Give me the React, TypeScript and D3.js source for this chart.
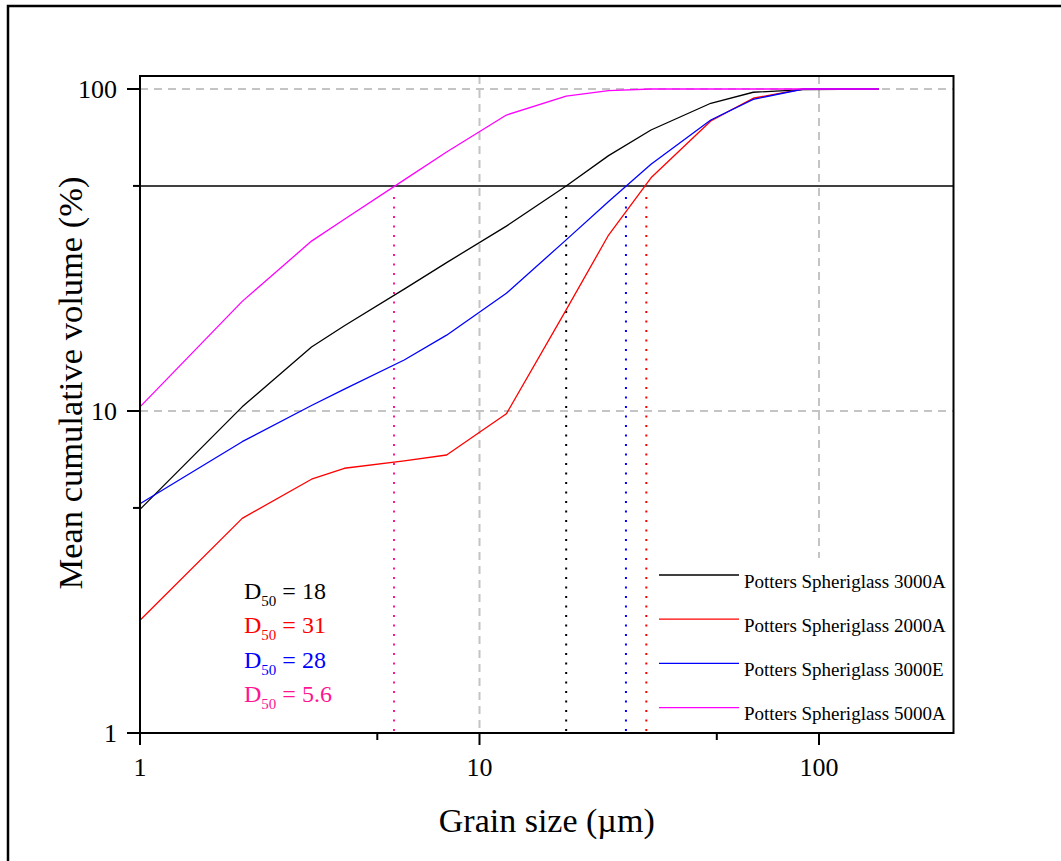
import * as d3 from "d3";

const WIDTH = 1061;
const HEIGHT = 861;
const PLOT = { left: 140, right: 953.5, top: 76, bottom: 733 };

// grain sizes (µm) shared by every series
const grainSizes = [1, 2, 3.2, 4, 6, 8, 12, 18, 24, 32, 48, 64, 90, 150];

const series3000A = [4.95, 10.3, 15.8, 18.4, 23.9, 28.9, 37.5, 50, 62.1, 74.6, 90.3, 97.7, 99.5, 100];
const series2000A = [2.24, 4.64, 6.14, 6.64, 7.0, 7.3, 9.8, 20.6, 35.2, 53.0, 79.6, 93.6, 100, 100];
const series3000E = [5.15, 8.03, 10.4, 11.7, 14.4, 17.2, 23.2, 34.0, 44.7, 58.4, 80.1, 92.9, 100, 100];
const series5000A = [10.3, 21.9, 33.7, 39.4, 52.2, 63.7, 83.0, 95.1, 98.8, 100, 100, 100, 100, 100];

const seriesNames = [
  "Potters Spheriglass 3000A",
  "Potters Spheriglass 2000A",
  "Potters Spheriglass 3000E",
  "Potters Spheriglass 5000A",
];
const seriesColors = ["#000000", "#ff0000", "#0000ff", "#ff00ff"];
const seriesValues = [series3000A, series2000A, series3000E, series5000A];

// D50 markers: where each curve crosses 50 %, and the printed value
const d50Positions = [18, 31, 27, 5.6];
const d50Labels = ["18", "31", "28", "5.6"];
const d50Colors = ["#000000", "#ff0000", "#0000ff", "#ff1493"];

const majorTicks = [1, 10, 100];
const minorTicks = [5, 50];
const gridValues = [10, 100];

const FONT = "'Liberation Serif', 'Times New Roman', serif";

export default function App() {
  const x = d3
    .scaleLog()
    .domain([1, Math.pow(10, (PLOT.right - PLOT.left) / 339.5)])
    .range([PLOT.left, PLOT.right]);
  const y = d3
    .scaleLog()
    .domain([1, Math.pow(10, (PLOT.bottom - PLOT.top) / 322)])
    .range([PLOT.bottom, PLOT.top]);

  const line = d3
    .line<[number, number]>()
    .x((d) => x(d[0]))
    .y((d) => y(d[1]));

  const legendX = 659;
  const legendY0 = 575;
  const legendStep = 44.2;

  return (
    <div style={{ position: "absolute", left: 0, top: 0 }}>
      <svg width={WIDTH} height={HEIGHT} style={{ display: "block", fontFamily: FONT }}>
        <rect x={0} y={0} width={WIDTH} height={HEIGHT} fill="#fff" />
        <rect x={8} y={6} width={WIDTH + 10} height={HEIGHT + 10} fill="none" stroke="#000" strokeWidth={2.5} />

        {/* grid */}
        {gridValues.map((v) => (
          <line
            key={"gx" + v}
            x1={x(v)}
            x2={x(v)}
            y1={PLOT.top}
            y2={PLOT.bottom}
            stroke="#c4c4c4"
            strokeWidth={2}
            strokeDasharray="8 6"
          />
        ))}
        {gridValues.map((v) => (
          <line
            key={"gy" + v}
            x1={PLOT.left}
            x2={PLOT.right}
            y1={y(v)}
            y2={y(v)}
            stroke="#c4c4c4"
            strokeWidth={2}
            strokeDasharray="8 6"
          />
        ))}

        {/* 50 % reference line */}
        <line x1={PLOT.left} x2={PLOT.right} y1={y(50)} y2={y(50)} stroke="#000" strokeWidth={1.5} />

        {/* D50 drop lines */}
        {d50Positions.map((v, i) => (
          <line
            key={"d50" + i}
            x1={x(v)}
            x2={x(v)}
            y1={y(50) + 11}
            y2={PLOT.bottom}
            stroke={d50Colors[i]}
            strokeWidth={2}
            strokeDasharray="2 7.5"
          />
        ))}

        {/* legend background hides the grid */}
        <rect x={652} y={558} width={298} height={170} fill="#fff" />

        {/* curves */}
        {seriesValues.map((vals, i) => (
          <path
            key={seriesNames[i]}
            d={line(grainSizes.map((g, j) => [g, vals[j]] as [number, number])) ?? ""}
            fill="none"
            stroke={seriesColors[i]}
            strokeWidth={1.3}
            strokeLinejoin="round"
          />
        ))}

        {/* legend */}
        {seriesNames.map((name, i) => (
          <g key={"leg" + i}>
            <line
              x1={legendX}
              x2={legendX + 80}
              y1={legendY0 + i * legendStep}
              y2={legendY0 + i * legendStep}
              stroke={seriesColors[i]}
              strokeWidth={1.3}
            />
            <text x={744} y={legendY0 + i * legendStep + 12.5} fontSize={19} fill="#000">
              {name}
            </text>
          </g>
        ))}

        {/* D50 text */}
        {d50Labels.map((lab, i) => (
          <text key={"lab" + i} x={244} y={599 + i * 34.4} fontSize={24} fill={d50Colors[i]}>
            D
            <tspan fontSize={15} dy={7}>
              50
            </tspan>
            <tspan dy={-7}>{" = " + lab}</tspan>
          </text>
        ))}

        {/* plot frame */}
        <rect
          x={PLOT.left}
          y={PLOT.top}
          width={PLOT.right - PLOT.left}
          height={PLOT.bottom - PLOT.top}
          fill="none"
          stroke="#000"
          strokeWidth={2}
        />

        {/* x axis ticks */}
        {majorTicks.map((t) => (
          <g key={"xt" + t}>
            <line x1={x(t)} x2={x(t)} y1={PLOT.bottom} y2={PLOT.bottom + 12} stroke="#000" strokeWidth={2} />
            <text x={x(t)} y={776} fontSize={26} textAnchor="middle">
              {t}
            </text>
          </g>
        ))}
        {minorTicks.map((t) => (
          <line key={"xm" + t} x1={x(t)} x2={x(t)} y1={PLOT.bottom} y2={PLOT.bottom + 7} stroke="#000" strokeWidth={2} />
        ))}

        {/* y axis ticks */}
        {majorTicks.map((t) => (
          <g key={"yt" + t}>
            <line x1={PLOT.left - 13} x2={PLOT.left} y1={y(t)} y2={y(t)} stroke="#000" strokeWidth={2} />
            <text x={117} y={y(t) + 9} fontSize={26} textAnchor="end">
              {t}
            </text>
          </g>
        ))}
        {minorTicks.map((t) => (
          <line key={"ym" + t} x1={PLOT.left - 7} x2={PLOT.left} y1={y(t)} y2={y(t)} stroke="#000" strokeWidth={2} />
        ))}

        {/* axis titles */}
        <text x={(PLOT.left + PLOT.right) / 2} y={832} fontSize={34} textAnchor="middle">
          Grain size (µm)
        </text>
        <text transform="translate(82, 383) rotate(-90)" fontSize={34.5} textAnchor="middle">
          Mean cumulative volume (%)
        </text>
      </svg>
    </div>
  );
}
